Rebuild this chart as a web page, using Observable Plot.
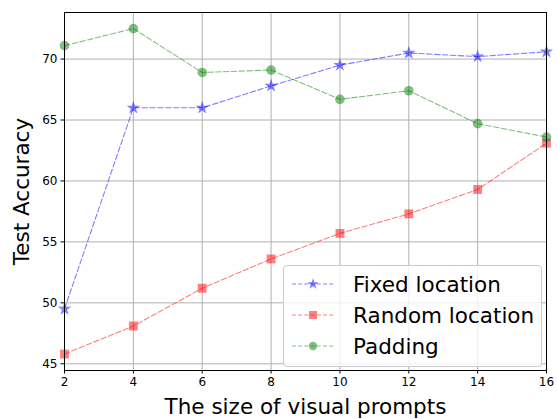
<!DOCTYPE html>
<html>
<head>
<meta charset="utf-8">
<script src="https://cdn.jsdelivr.net/npm/d3@7"></script>
<script src="https://cdn.jsdelivr.net/npm/@observablehq/plot@0.6"></script>
<style>
  body { margin: 0; background: white; }
  #wrap { position: relative; width: 557px; height: 419px; font-family: "DejaVu Sans", sans-serif; }
  #wrap svg text { font-family: "DejaVu Sans", sans-serif; }
  [aria-label="x-axis label"] text, [aria-label="y-axis label"] text { font-size: 21.5px; fill: black; }
  #legend { position: absolute; left: 283px; top: 265px; width: 257px; height: 100px;
    border: 1px solid #cccccc; border-radius: 4px; background: rgba(255,255,255,0.8);
    font-size: 21.5px; color: black; }
  .row { position: absolute; left: 0; height: 30px; display: flex; align-items: center; }
  .row svg { display: block; }
  .row span { margin-left: 17px; white-space: nowrap; }
</style>
</head>
<body>
<div id="wrap"></div>
<script>
const sizes = [2, 4, 6, 8, 10, 12, 14, 16];
const seriesNames = ["Fixed location", "Random location", "Padding"];
const fixedLocation = [49.5, 66.0, 66.0, 67.8, 69.5, 70.5, 70.2, 70.6];
const randomLocation = [45.8, 48.1, 51.2, 53.6, 55.7, 57.3, 59.3, 63.1];
const padding = [71.1, 72.5, 68.9, 69.1, 66.7, 67.4, 64.7, 63.6];
const xTicks = [2, 4, 6, 8, 10, 12, 14, 16];
const yTicks = [45, 50, 55, 60, 65, 70];
const colors = ["blue", "red", "green"];
const symbols = ["star", "square", "circle"];
const radii = [4.2, 5, 4.8];
const legendRadii = [3.5, 4.5, 4.2];

const seriesValues = [fixedLocation, randomLocation, padding];
const data = [];
seriesNames.forEach((name, i) => {
  sizes.forEach((s, j) => data.push({series: name, size: s, acc: seriesValues[i][j]}));
});

const marks = [
  Plot.gridX(xTicks, {stroke: "#b0b0b0", strokeOpacity: 1}),
  Plot.gridY(yTicks, {stroke: "#b0b0b0", strokeOpacity: 1}),
  Plot.axisX(xTicks, {tickSize: 3.5, tickPadding: 3.5, fontSize: 12, label: "The size of visual prompts", labelArrow: "none", labelAnchor: "center", labelOffset: 43}),
  Plot.axisY(yTicks, {tickSize: 3.5, tickPadding: 3.5, fontSize: 12, label: "Test Accuracy", labelArrow: "none", labelAnchor: "center", labelOffset: 51})
];
seriesNames.forEach((name, i) => {
  const d = data.filter(r => r.series === name);
  marks.push(Plot.line(d, {x: "size", y: "acc", stroke: colors[i], strokeOpacity: 0.5, strokeWidth: 1.1, strokeDasharray: "5.5,2.4"}));
});
seriesNames.forEach((name, i) => {
  const d = data.filter(r => r.series === name);
  marks.push(Plot.dot(d, {x: "size", y: "acc", symbol: () => symbols[i], fill: colors[i], fillOpacity: 0.5, stroke: "none", r: radii[i]}));
});
marks.push(Plot.frame({stroke: "black", strokeWidth: 1}));

const chart = Plot.plot({
  width: 557,
  height: 419,
  marginLeft: 64,
  marginRight: 11,
  marginTop: 12,
  marginBottom: 49,
  style: {fontFamily: "DejaVu Sans", fontSize: "12px", color: "black", background: "white"},
  x: {domain: [2, 16]},
  y: {domain: [44.45, 73.82]},
  symbol: {type: "identity"},
  marks
});
const wrap = document.getElementById("wrap");
wrap.appendChild(chart);

// legend
const legend = document.createElement("div");
legend.id = "legend";
seriesNames.forEach((name, i) => {
  const row = document.createElement("div");
  row.className = "row";
  row.style.top = (3 + i * 31) + "px";
  const sw = d3.create("svg").attr("width", 52).attr("height", 30);
  sw.append("line").attr("x1", 8).attr("x2", 50).attr("y1", 15).attr("y2", 15)
    .attr("stroke", colors[i]).attr("stroke-opacity", 0.5).attr("stroke-width", 1.1).attr("stroke-dasharray", "4,2.2");
  const sym = {star: d3.symbolStar, square: d3.symbolSquare, circle: d3.symbolCircle}[symbols[i]];
  sw.append("path").attr("d", d3.symbol(sym, Math.PI * legendRadii[i] * legendRadii[i])()).attr("transform", "translate(29,15)")
    .attr("fill", colors[i]).attr("fill-opacity", 0.5);
  row.appendChild(sw.node());
  const span = document.createElement("span");
  span.textContent = name;
  row.appendChild(span);
  legend.appendChild(row);
});
wrap.appendChild(legend);
</script>
</body>
</html>
